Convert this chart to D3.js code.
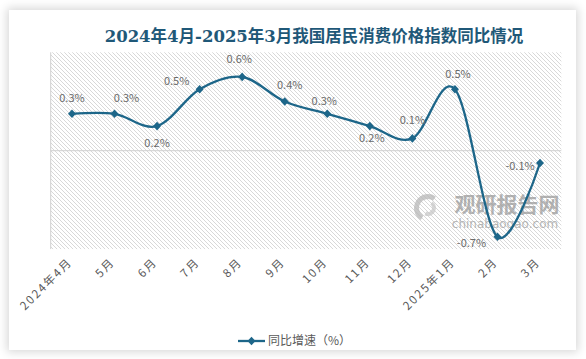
<!DOCTYPE html>
<html><head><meta charset="utf-8">
<script src="https://cdn.jsdelivr.net/npm/d3@7"></script>
<style>
html,body{margin:0;padding:0;background:#fff;}
#card{position:absolute;left:9px;top:10px;width:567px;height:340px;background:#fff;box-shadow:0 0 9px 2px rgba(0,0,0,0.16);}
svg{position:absolute;left:0;top:0;}
</style></head>
<body><div id="card"></div><svg id="chart" width="586" height="359"></svg>
<script>
const title = "2024年4月-2025年3月我国居民消费价格指数同比情况";
const categories = ["2024年4月","5月","6月","7月","8月","9月","10月","11月","12月","2025年1月","2月","3月"];
const values = [0.3,0.3,0.2,0.5,0.6,0.4,0.3,0.2,0.1,0.5,-0.7,-0.1];
const seriesName = "同比增速（%）";
const yDomain = [-0.8, 0.8];
// label offsets (style only)
const labelDx = [0,12,0,-23,-3,5,-3,2,0,3,-26,-20];
const labelDy = [-16,-16,17,-8,-18,-16,-13,12,-18,-15,6,3];

const svg = d3.select("#chart");
const M = {left:50.7, right:561.3, top:52.3, bottom:249.1};
const x = d3.scaleBand().domain(categories).range([M.left, M.right]);
const y = d3.scaleLinear().domain(yDomain).range([M.bottom, M.top]);
const cx = d => x(d) + x.bandwidth()/2;
const color = "#1d6689";

const defs = svg.append("defs");
const pat = defs.append("pattern").attr("id","hatch").attr("patternUnits","userSpaceOnUse")
  .attr("width",4).attr("height",4);
pat.append("rect").attr("width",4).attr("height",4).attr("fill","#fff");
pat.append("path").attr("d","M-1,-1 L5,5 M-1,3 L1,5 M3,-1 L5,1").attr("stroke","#d4d4d4").attr("stroke-width",0.9);

svg.append("rect").attr("x",M.left).attr("y",M.top).attr("width",M.right-M.left).attr("height",M.bottom-M.top)
  .attr("fill","url(#hatch)");

// watermark
const wm = svg.append("g").attr("opacity",0.75);
wm.append("path").attr("d", d3.arc()({innerRadius:9,outerRadius:14,startAngle:-2.6,endAngle:0.6})).attr("transform","translate(428,208)").attr("fill","#b8b8b8");
wm.append("path").attr("d", d3.arc()({innerRadius:4,outerRadius:8,startAngle:0.6,endAngle:3.6})).attr("transform","translate(428,208)").attr("fill","#c8c8c8");
wm.append("text").attr("x",507).attr("y",212).attr("text-anchor","middle").attr("font-family","Noto Sans CJK SC").attr("font-weight","bold").attr("font-size",21).attr("fill","#9a9a9a").text("观研报告网");
wm.append("text").attr("x",505).attr("y",228).attr("text-anchor","middle").attr("font-family","DejaVu Sans").attr("font-size",12).attr("fill","#a0a0a0").text("chinabaogao.com");

// axis lines
svg.append("line").attr("x1",M.left).attr("x2",M.left).attr("y1",M.top).attr("y2",M.bottom).attr("stroke","#d0d0d0");
svg.append("line").attr("x1",M.left).attr("x2",M.right).attr("y1",y(0)).attr("y2",y(0)).attr("stroke","#d0d0d0");

// line
const line = d3.line().x((d,i)=>cx(categories[i])).y(d=>y(d)).curve(d3.curveCardinal.tension(0));
svg.append("path").datum(values).attr("d",line).attr("fill","none").attr("stroke",color).attr("stroke-width",2.3);

const diamond = "M0,-4.3 L4,0 L0,4.3 L-4,0 Z";
svg.selectAll(".mk").data(values).enter().append("path").attr("class","mk")
  .attr("d",diamond).attr("fill",color)
  .attr("transform",(d,i)=>`translate(${cx(categories[i])},${y(d)})`);

svg.selectAll(".lbl").data(values).enter().append("text").attr("class","lbl")
  .attr("x",(d,i)=>cx(categories[i])+labelDx[i]).attr("y",(d,i)=>y(d)+labelDy[i])
  .attr("dy","0.35em").attr("text-anchor","middle")
  .attr("font-family","Noto Sans CJK SC, Noto Sans").attr("font-size",11).attr("fill","#6b6b6b")
  .text(d=>d.toFixed(1)+"%");

// x labels
svg.selectAll(".xl").data(categories).enter().append("text").attr("class","xl")
  .attr("transform",d=>`translate(${cx(d)-2},${M.bottom+11}) rotate(-45)`)
  .attr("text-anchor","end").attr("dy","0.35em")
  .attr("font-family","Noto Sans CJK SC").attr("font-size",11.5).attr("letter-spacing",1.8).attr("fill","#595959")
  .text(d=>d);

// title
svg.append("text").attr("x",314).attr("y",36).attr("dy","0.35em").attr("text-anchor","middle")
  .attr("font-family","DejaVu Serif, Noto Sans CJK SC").attr("font-weight","bold").attr("font-size",16.5).attr("fill","#1f5878").text(title);

// legend
const lg = svg.append("g").attr("transform","translate(238,341)");
lg.append("line").attr("x1",0).attr("x2",27).attr("stroke",color).attr("stroke-width",2.3);
lg.append("path").attr("d",diamond).attr("transform","translate(13.5,0)").attr("fill",color);
lg.append("text").attr("x",30).attr("dy","0.35em").attr("font-family","Noto Sans CJK SC").attr("font-size",12).attr("fill","#595959").text(seriesName);
</script></body></html>
